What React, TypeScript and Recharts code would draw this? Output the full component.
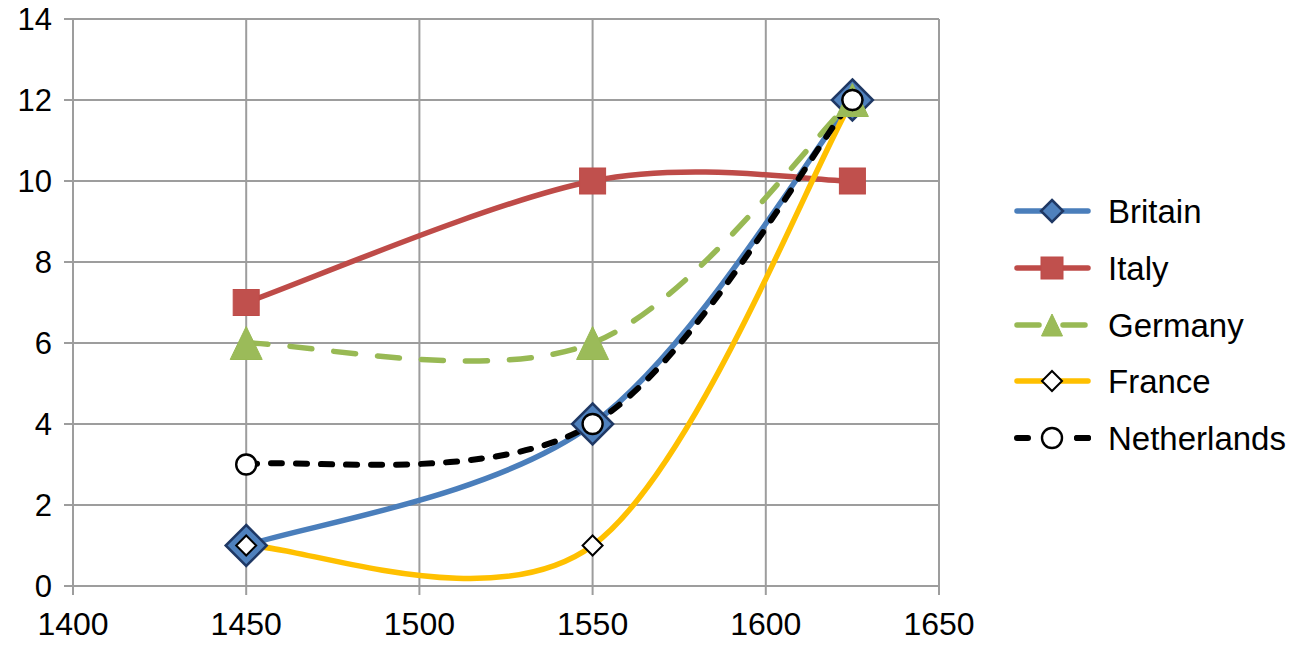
import React from 'react'
import { LineChart, Line, XAxis, YAxis, CartesianGrid } from 'recharts'

const years = [1450, 1550, 1625]
const britain = [1, 4, 12]
const italy = [7, 10, 10]
const germany = [6, 6, 12]
const france = [1, 1, 12]
const netherlands = [3, 4, 12]

const xTicks = [1400, 1450, 1500, 1550, 1600, 1650]
const yTicks = [0, 2, 4, 6, 8, 10, 12, 14]
const seriesNames = ['Britain', 'Italy', 'Germany', 'France', 'Netherlands']

const data = years.map((year, i) => ({
  year,
  Britain: britain[i],
  Italy: italy[i],
  Germany: germany[i],
  France: france[i],
  Netherlands: netherlands[i],
}))

const FONT = '"Liberation Sans", Arial, Helvetica, sans-serif'
const GRID = '#9d9d9d'

// excel style smoothing: catmull-rom segments drawn as cubic beziers
const excelSmooth = (context: any) => {
  let pts: number[][] = []
  return {
    areaStart() {},
    areaEnd() {},
    lineStart() {
      pts = []
    },
    point(x: number, y: number) {
      pts.push([+x, +y])
    },
    lineEnd() {
      if (!pts.length) return
      context.moveTo(pts[0][0], pts[0][1])
      for (let i = 0; i < pts.length - 1; i++) {
        const p0 = pts[Math.max(i - 1, 0)]
        const p1 = pts[i]
        const p2 = pts[i + 1]
        const p3 = pts[Math.min(i + 2, pts.length - 1)]
        context.bezierCurveTo(
          p1[0] + (p2[0] - p0[0]) / 6,
          p1[1] + (p2[1] - p0[1]) / 6,
          p2[0] - (p3[0] - p1[0]) / 6,
          p2[1] - (p3[1] - p1[1]) / 6,
          p2[0],
          p2[1]
        )
      }
    },
  }
}

const diamondPath = (cx: number, cy: number, r: number) =>
  `M${cx},${cy - r}L${cx + r},${cy}L${cx},${cy + r}L${cx - r},${cy}Z`

type MarkerFn = (cx: number, cy: number, small?: boolean) => React.ReactElement

const markers: Record<string, MarkerFn> = {
  Britain: (cx, cy, small) => (
    <path d={diamondPath(cx, cy, small ? 11 : 20.5)} fill="#4F81BD" stroke="#1F3864" strokeWidth={2.5} />
  ),
  Italy: (cx, cy, small) => {
    const s = small ? 22 : 26
    return <rect x={cx - s / 2} y={cy - s / 2} width={s} height={s} fill="#C0504D" stroke="#BE4B48" strokeWidth={1} />
  },
  Germany: (cx, cy, small) => {
    const w = small ? 21 : 32
    const h = small ? 22 : 33
    return (
      <path
        d={`M${cx},${cy - h / 2}L${cx + w / 2},${cy + h / 2}L${cx - w / 2},${cy + h / 2}Z`}
        fill="#9BBB59"
        stroke="#98B954"
        strokeWidth={1}
      />
    )
  },
  France: (cx, cy) => <path d={diamondPath(cx, cy, 10)} fill="#fff" stroke="#000" strokeWidth={2} />,
  Netherlands: (cx, cy) => <circle cx={cx} cy={cy} r={10} fill="#fff" stroke="#000" strokeWidth={2.4} />,
}

const lineStyles: Record<string, { stroke: string; width: number; dash?: string }> = {
  Britain: { stroke: '#4A7EBB', width: 5.5 },
  Italy: { stroke: '#BE4B48', width: 5.5 },
  Germany: { stroke: '#98B954', width: 5.5, dash: '22 22' },
  France: { stroke: '#FFC000', width: 5.5 },
  Netherlands: { stroke: '#000000', width: 6, dash: '11 14' },
}

function Legend() {
  const rowY = [211, 268, 325, 381, 438]
  return (
    <svg width={300} height={654} style={{ position: 'absolute', left: 0, top: 0, overflow: 'visible' }}>
      {seriesNames.map((name, i) => {
        const y = rowY[i]
        const st = lineStyles[name]
        return (
          <g key={name}>
            <line
              x1={1017}
              x2={1088}
              y1={y}
              y2={y}
              stroke={st.stroke}
              strokeWidth={st.width}
              strokeLinecap="round"
              strokeDasharray={name === 'Germany' ? '22 24' : name === 'Netherlands' ? '11 49' : undefined}
            />
            {name === 'Netherlands' && (
              <line x1={1077} x2={1088} y1={y} y2={y} stroke="#000" strokeWidth={6} strokeLinecap="round" />
            )}
            {markers[name](1052, y, true)}
            <text x={1108} y={y + 12} fontSize={33} fontFamily={FONT} fill="#000">
              {name}
            </text>
          </g>
        )
      })}
    </svg>
  )
}

export default function App() {
  return (
    <div style={{ position: 'absolute', left: 0, top: 0, width: 1301, height: 654, background: '#fff' }}>
      <LineChart width={1301} height={654} data={data} margin={{ top: 19, right: 362, bottom: 8, left: 0 }}>
        <CartesianGrid stroke={GRID} strokeWidth={2} />
        <XAxis
          type="number"
          dataKey="year"
          domain={[1400, 1650]}
          ticks={xTicks}
          interval={0}
          height={60}
          tickSize={9}
          tickMargin={17}
          axisLine={{ stroke: GRID, strokeWidth: 2 }}
          tickLine={{ stroke: GRID, strokeWidth: 2 }}
          tick={{ fill: '#000', fontSize: 32, fontFamily: FONT }}
        />
        <YAxis
          type="number"
          domain={[0, 14]}
          ticks={yTicks}
          interval={0}
          width={73}
          tickSize={9}
          tickMargin={12}
          axisLine={{ stroke: GRID, strokeWidth: 2 }}
          tickLine={{ stroke: GRID, strokeWidth: 2 }}
          tick={{ fill: '#000', fontSize: 31, fontFamily: FONT }}
        />
        {seriesNames.map((name) => {
          const st = lineStyles[name]
          return (
            <Line
              key={name}
              dataKey={name}
              type={excelSmooth as any}
              stroke={st.stroke}
              strokeWidth={st.width}
              strokeDasharray={st.dash}
              strokeLinecap="round"
              isAnimationActive={false}
              activeDot={false}
              dot={(p: any) => <g key={`${name}-${p.index}`}>{markers[name](p.cx, p.cy)}</g>}
            />
          )
        })}
      </LineChart>
      <Legend />
    </div>
  )
}
